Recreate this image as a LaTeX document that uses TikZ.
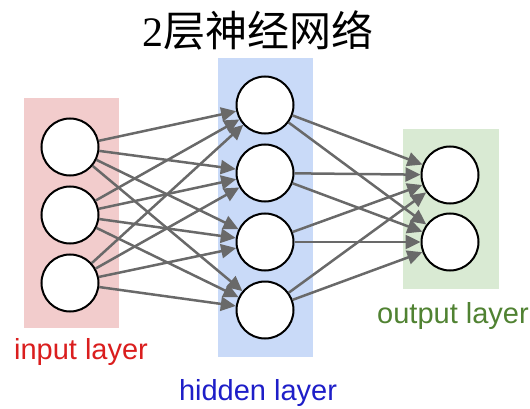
\documentclass[tikz,border=0pt]{standalone}
\usepackage{fontspec}
\setmainfont{Liberation Sans}
\newfontfamily\cjk{Noto Sans CJK SC}
\newfontfamily\serifnum{Liberation Serif}
\usetikzlibrary{arrows.meta}
\definecolor{inbg}{RGB}{242,204,204}
\definecolor{hidbg}{RGB}{201,218,248}
\definecolor{outbg}{RGB}{217,234,211}
\definecolor{inred}{RGB}{218,30,30}
\definecolor{hidblue}{RGB}{30,30,200}
\definecolor{outgreen}{RGB}{80,130,50}
\definecolor{edgegray}{RGB}{105,105,105}
\begin{document}
\begin{tikzpicture}[x=1pt,y=-1pt,
  neuron/.style={circle,draw=black,line width=2pt,fill=white,minimum size=57pt,inner sep=0pt},
  conn/.style={draw=edgegray,line width=2.5pt,-{Triangle[length=15pt,width=14pt]}},
  lbl/.style={font=\fontsize{29}{31}\selectfont}]
\useasboundingbox (0,0) rectangle (530,409);
% layer backgrounds
\fill[inbg] (24,98) rectangle (119,328);
\fill[hidbg] (218,58) rectangle (313,357);
\fill[outbg] (403,129) rectangle (499,289);
% title
\node (title) at (258,30) {\serifnum\fontsize{42}{44}\selectfont 2\cjk 层神经网络};
% neurons
\node[neuron] (i1) at (70,147) {};
\node[neuron] (i2) at (70,215) {};
\node[neuron] (i3) at (70,283) {};
\node[neuron] (h1) at (265,105) {};
\node[neuron] (h2) at (265,173) {};
\node[neuron] (h3) at (265,242) {};
\node[neuron] (h4) at (265,310) {};
\node[neuron] (o1) at (450,175) {};
\node[neuron] (o2) at (450,242) {};
% connections
\foreach \a in {i1,i2,i3}{\foreach \b in {h1,h2,h3,h4}{\draw[conn] (\a) -- (\b);}}
\foreach \a in {h1,h2,h3,h4}{\foreach \b in {o1,o2}{\draw[conn] (\a) -- (\b);}}
% labels
\node[lbl,text=inred] (lin) at (81,352) {input layer};
\node[lbl,text=hidblue] (lhid) at (258,393) {hidden layer};
\node[lbl,text=outgreen] (lout) at (453,316) {output layer};
\end{tikzpicture}
\end{document}
